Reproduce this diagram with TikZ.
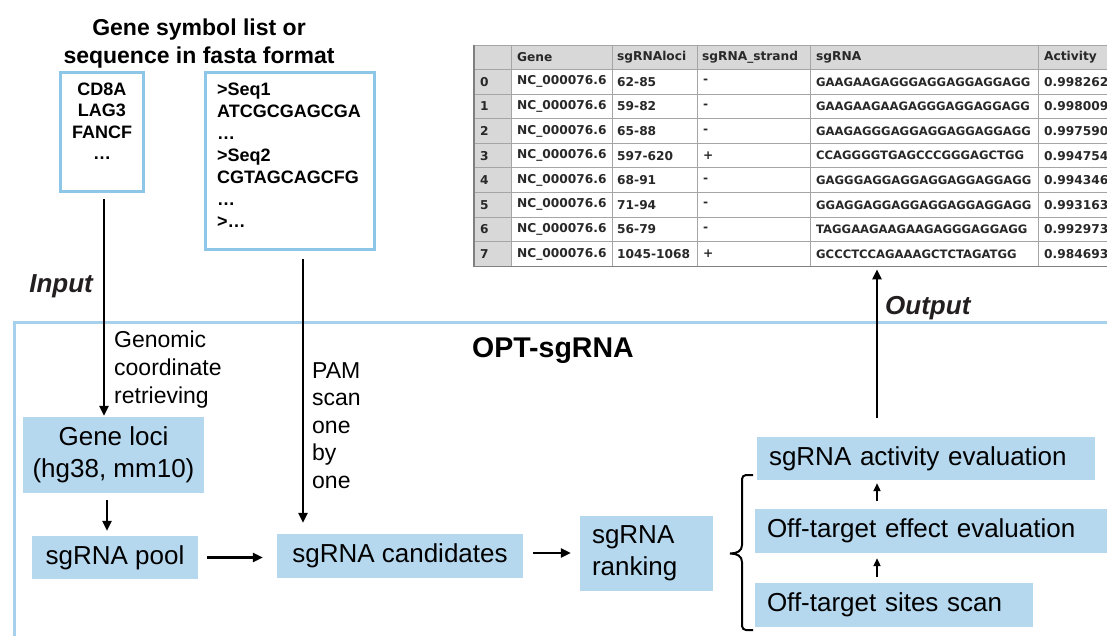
\documentclass[tikz,border=0pt]{standalone}
\usepackage{fontspec}
\setmainfont{Liberation Sans}
\newfontfamily\tblfont{DejaVu Sans}
\usetikzlibrary{arrows.meta}
\definecolor{boxblue}{RGB}{181,216,239}
\definecolor{frameblue}{RGB}{166,208,236}
\definecolor{inborder}{RGB}{142,198,232}
\definecolor{hdrgray}{RGB}{216,216,216}
\definecolor{gridgray}{RGB}{165,165,165}
\definecolor{tbltext}{RGB}{40,40,40}
\definecolor{labeldark}{RGB}{35,31,32}
\tikzset{
  fbox/.style={fill=boxblue, inner sep=0pt, font=\fontsize{26}{32}\selectfont},
  lbox/.style={fbox, align=left, inner xsep=12pt},
  inbox/.style={draw=inborder, line width=3pt, inner sep=0pt},
  arr/.style={line width=2.4pt, -{Triangle[length=10pt,width=9pt]}},
  sarr/.style={line width=2pt, -{Triangle[length=8pt,width=7pt]}},
  lbl/.style={inner sep=0pt, align=left, font=\fontsize{23}{27.6}\selectfont},
  io/.style={inner sep=0pt, text=labeldark, font=\bfseries\itshape\fontsize{26}{30}\selectfont},
  tcell/.style={inner sep=0pt, anchor=west, text=tbltext, font=\tblfont\bfseries\fontsize{12.2}{14}\selectfont},
  tseq/.style={tcell, font=\tblfont\bfseries\fontsize{11.6}{14}\selectfont},
  grid/.style={draw=gridgray, line width=1pt},
}
\begin{document}
\begin{tikzpicture}[x=1pt,y=-1pt]
\useasboundingbox (0,0) rectangle (1107,635);
\fill[white] (0,0) rectangle (1107,635);

% ---------- input ----------
\node[anchor=base, align=center, inner sep=0pt, font=\bfseries\fontsize{23}{28}\selectfont] (title) at (199,63) {Gene symbol list or\\sequence in fasta format};
\node[inbox, minimum width=83pt, minimum height=119pt] (genes) at (102,132) {};
\node[anchor=base, align=center, inner sep=0pt, font=\bfseries\fontsize{18}{21.5}\selectfont] (genestxt) at (102,159.5) {CD8A\\LAG3\\FANCF\\…};
\node[inbox, minimum width=169pt, minimum height=177pt] (fasta) at (290,161) {};
\node[anchor=base west, align=left, inner sep=0pt, font=\bfseries\fontsize{18}{22}\selectfont] (fastatxt) at (217,227) {>Seq1\\ATCGCGAGCGA\\…\\>Seq2\\CGTAGCAGCFG\\…\\>…};

% ---------- frame ----------
\draw[frameblue, line width=3pt] (14,640) -- (14,322) -- (1112,322);
\node[anchor=base west, inner sep=0pt, font=\bfseries\fontsize{28.5}{32}\selectfont] (opt) at (472,357) {OPT-sgRNA};
\node[io, anchor=base east] (input) at (93,292) {Input};
\node[io, anchor=base west] (output) at (885,314) {Output};

% ---------- pipeline boxes ----------
\node[fbox, align=center, minimum width=181pt, minimum height=76pt] (loci) at (113.5,455) {Gene loci\\(hg38, mm10)};
\node[fbox, minimum width=166pt, minimum height=43pt] (pool) at (115,557.5) {sgRNA pool};
\node[fbox, minimum width=246pt, minimum height=44pt] (cand) at (400,556) {sgRNA candidates};
\node[lbox, text width=109pt, minimum height=75pt] (rank) at (646.5,553.5) {sgRNA\\ranking};
\node[lbox, text width=314pt, minimum height=43pt] (act) at (926,458.5) {sgRNA activity evaluation};
\node[lbox, text width=331pt, minimum height=44pt] (eff) at (932.5,531) {Off-target effect evaluation};
\node[lbox, text width=254pt, minimum height=44pt] (sites) at (894,605) {Off-target sites scan};

\node[lbl, anchor=base west] (genlbl) at (114,403) {Genomic\\coordinate\\retrieving};
\node[lbl, anchor=base west] (pamlbl) at (312,488.5) {PAM\\scan\\one\\by\\one};

% ---------- table ----------
\fill[hdrgray] (474,45) rectangle (1107,69.5);
\fill[hdrgray] (474,69.5) rectangle (511,266.3);
\foreach \x in {474,511,612,697,810,1038} \draw[grid] (\x,45) -- (\x,266.3);
\draw[grid] (474,45) -- (1107,45);
\foreach \i in {0,...,8} \draw[grid] (474,{69.5+24.6*\i}) -- (1107,{69.5+24.6*\i});
\draw[draw=gray, line width=1.2pt] (474,45) -- (474,266.3) -- (1107,266.3);
\node[tcell] (hgene) at (517,57.3) {Gene};
\node[tcell] (hloci) at (617,57.3) {sgRNAloci};
\node[tcell] (hstr) at (702,57.3) {sgRNA\_strand};
\node[tcell] (hseq) at (816,57.3) {sgRNA};
\node[tcell] (hact) at (1044,57.3) {Activity};
\foreach \lo/\st/\sq/\ac [count=\i from 0] in {
  62-85/-/GAAGAAGAGGGAGGAGGAGGAGG/0.998262,
  59-82/-/GAAGAAGAAGAGGGAGGAGGAGG/0.998009,
  65-88/-/GAAGAGGGAGGAGGAGGAGGAGG/0.997590,
  597-620/+/CCAGGGGTGAGCCCGGGAGCTGG/0.994754,
  68-91/-/GAGGGAGGAGGAGGAGGAGGAGG/0.994346,
  71-94/-/GGAGGAGGAGGAGGAGGAGGAGG/0.993163,
  56-79/-/TAGGAAGAAGAAGAGGGAGGAGG/0.992973,
  1045-1068/+/GCCCTCCAGAAAGCTCTAGATGG/0.984693} {
  \node[tcell] (idx\i) at (480,{81.8+24.6*\i}) {\i};
  \node[tcell] (gene\i) at (517,{81.8+24.6*\i}) {NC\_000076.6};
  \node[tcell] (loc\i) at (617,{81.8+24.6*\i}) {\lo};
  \node[tcell] (str\i) at (703,{81.8+24.6*\i}) {\st};
  \node[tseq] (seq\i) at (816,{81.8+24.6*\i}) {\sq};
  \node[tcell] (act\i) at (1044,{81.8+24.6*\i}) {\ac};
}
\coordinate (tblbot) at (877,266.3);

% ---------- connectors ----------
\coordinate (inA) at (104,199);
\coordinate (inB) at (303,259);
\draw[arr, shorten >=1pt] (inA) -- (inA |- loci.north);
\draw[arr, shorten >=11pt] (inB) -- (inB |- cand.north);
\draw[arr, shorten <=7pt, shorten >=5pt] (loci.south -| 107,0) -- (pool.north -| 107,0);
\draw[arr, shorten <=9pt, shorten >=14pt] (pool.east) -- (pool.east -| cand.west);
\draw[arr, shorten <=10pt, shorten >=9pt] (cand.east |- 0,553) -- (rank.west |- 0,553);
\draw[sarr, shorten <=6pt, shorten >=5pt] (sites.north -| 877,0) -- (eff.south -| 877,0);
\draw[sarr, shorten <=8pt, shorten >=3pt] (eff.north -| 877,0) -- (act.south -| 877,0);
\coordinate (outA) at (877,418);
\draw[arr, shorten >=3pt] (outA) -- (tblbot);

% ---------- brace ----------
\draw[line width=2pt, rounded corners=4pt] (753,475) -- (742,475) -- (742,545);
\draw[line width=2pt] (742,545) .. controls (742,551) and (737,553.5) .. (730,553.5) .. controls (737,553.5) and (742,556) .. (742,562);
\draw[line width=2pt, rounded corners=4pt] (742,562) -- (742,630) -- (753,630);
\end{tikzpicture}
\end{document}
